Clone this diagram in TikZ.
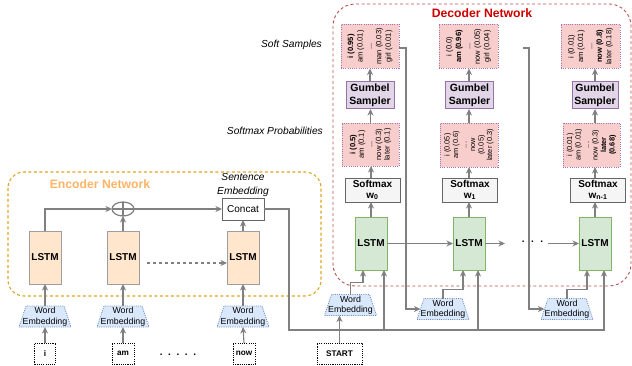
\documentclass[tikz,border=0pt]{standalone}
\usepackage{fontspec}
\setmainfont{Liberation Sans}
\usetikzlibrary{arrows.meta,shapes.geometric,backgrounds,calc}
\definecolor{arrgray}{HTML}{808080}
\definecolor{encfill}{HTML}{FFE6CC}
\definecolor{encdraw}{HTML}{9E9E9E}
\definecolor{decfill}{HTML}{D5E8D4}
\definecolor{decdraw}{HTML}{82B366}
\definecolor{smfill}{HTML}{F5F5F5}
\definecolor{smdraw}{HTML}{666666}
\definecolor{gumfill}{HTML}{E1D5E7}
\definecolor{gumdraw}{HTML}{9673A6}
\definecolor{probfill}{HTML}{F8CECC}
\definecolor{probdraw}{HTML}{A673B6}
\definecolor{wefill}{HTML}{DAE8FC}
\definecolor{wedraw}{HTML}{6C8EBF}
\definecolor{encframe}{HTML}{E0A526}
\definecolor{enctitle}{HTML}{FFB366}
\definecolor{decframe}{HTML}{B85450}
\definecolor{dectitle}{HTML}{CC0000}
\newcommand\fs[2]{\fontsize{#1}{#2}\selectfont}
\newcommand\wetrap[1]{\filldraw[wetrap] (#1.south west) -- (#1.south east) -- ([xshift=-7pt]#1.north east) -- ([xshift=7pt]#1.north west) -- cycle;}
\begin{document}
\begin{tikzpicture}[x=1pt,y=-1pt,
  box/.style={rectangle, inner sep=0pt, outer sep=0pt, align=center},
  lstmE/.style={box, draw=encdraw, fill=encfill, line width=0.9pt, minimum width=32pt, minimum height=53pt, font=\fs{10}{12}\bfseries},
  lstmD/.style={box, draw=decdraw, fill=decfill, line width=0.9pt, minimum width=32pt, minimum height=53pt, font=\fs{10}{12}\bfseries},
  smx/.style={box, draw=smdraw, fill=smfill, line width=0.8pt, minimum width=55pt, minimum height=24pt, font=\fs{10}{11}\bfseries},
  gum/.style={box, draw=gumdraw, fill=gumfill, line width=1pt, minimum width=48pt, minimum height=27pt, font=\fs{10.5}{13}\bfseries},
  prob/.style={box, draw=probdraw, fill=probfill, line width=0.8pt, dash pattern=on 1pt off 1.2pt, minimum width=58pt, minimum height=44pt},
  rot/.style={box, rotate=90, font=\fs{7.6}{8.6}},
  we/.style={box, minimum width=52pt, minimum height=21pt, font=\fs{8.8}{10.5}},
  wetrap/.style={fill=wefill, draw=wedraw, line width=0.8pt, dash pattern=on 1pt off 1.2pt},
  inp/.style={box, draw=black, line width=0.8pt, dash pattern=on 1.1pt off 1.1pt, fill=white, minimum height=21pt, font=\fs{8.2}{10}\bfseries},
  arr/.style={draw=arrgray, line width=1.1pt, -{Stealth[length=6.5pt,width=6pt,inset=2pt]}},
  ln/.style={draw=arrgray, line width=1.1pt},
  lbl/.style={font=\fs{10.2}{12}\itshape, inner sep=0pt},
  oplus/.style={ellipse, draw=arrgray, line width=1.2pt, fill=white, minimum width=22pt, minimum height=14pt, inner sep=0pt, outer sep=0pt,
    path picture={\draw[arrgray,line width=1.2pt] (path picture bounding box.north) -- (path picture bounding box.south) (path picture bounding box.west) -- (path picture bounding box.east);}},
  dots/.style={font=\fs{10}{12}\bfseries, inner sep=0pt}
]
\useasboundingbox (0,0) rectangle (632,366);

% frames
\draw[encframe, line width=1.1pt, dash pattern=on 3pt off 2.5pt, rounded corners=16pt] (8,172) rectangle (321,296);
\node[font=\fs{12.2}{14}\bfseries, text=enctitle, inner sep=0pt] (enctitle) at (100,184) {Encoder Network};
\draw[decframe, line width=0.9pt, dash pattern=on 3pt off 2.5pt, rounded corners=22pt] (333,4) rectangle (631,286);
\node[font=\fs{12.2}{14}\bfseries, text=dectitle, inner sep=0pt] (dectitle) at (482,13) {Decoder Network};

% encoder
\node[lstmE] (e1) at (45,257.5) {LSTM};
\node[lstmE] (e2) at (123,257.5) {LSTM};
\node[lstmE] (e3) at (243,257.5) {LSTM};
\node[oplus] (oplus) at (123,209) {};
\node[box, draw=smdraw, fill=white, line width=0.8pt, minimum width=42pt, minimum height=22pt, font=\fs{10}{12}] (concat) at (243,209) {Concat};
\node[lbl, align=center, font=\fs{10.2}{13.5}\itshape] (sentemb) at (243,185) {Sentence\\Embedding};

\node[we] (w1) at (45,316.5) {Word\\Embedding};
\node[we] (w2) at (123,316.5) {Word\\Embedding};
\node[we] (w3) at (243,316.5) {Word\\Embedding};
\node[inp, minimum width=21pt] (in1) at (45,353.5) {i};
\node[inp, minimum width=22pt] (in2) at (123,353.5) {am};
\node[inp, minimum width=22pt] (in3) at (244,353.5) {now};
\node[dots] (edots) at (178,355) {.\hspace{5.6pt}.\hspace{5.6pt}.\hspace{5.6pt}.\hspace{5.6pt}.};

% decoder columns
\node[lstmD] (d1) at (371,243.5) {LSTM};
\node[lstmD] (d2) at (469,243.5) {LSTM};
\node[lstmD] (d3) at (595,243.5) {LSTM};
\node[smx] (sm1) at (372.5,190) {Softmax\\w\textsubscript{0}};
\node[smx] (sm2) at (470,190) {Softmax\\w\textsubscript{1}};
\node[smx] (sm3) at (598,190) {Softmax\\w\textsubscript{n-1}};
\node[prob, minimum width=57pt, minimum height=43pt] (pb1) at (370.5,144.5) {};
\node[prob, minimum width=58pt] (pb2) at (469,145) {};
\node[prob, minimum width=57pt] (pb3) at (591.5,145) {};
\node[rot] (pt1) at (pb1) {\textbf{i (0.5)}\\am (0.1)\\...\\now (0.3)\\later (0.1)};
\node[rot, font=\fs{7.4}{8.5}] (pt2) at (pb2) {i (0.05)\\am (0.6)\\...\\now\\(0.05)\\later (0.3)};
\node[rot, font=\fs{7.4}{8.5}] (pt3) at (pb3) {i (0.01)\\am (0.01)\\...\\now (0.3)\\\textbf{later}\\\textbf{(0.68)}};
\node[gum] (gs1) at (370,95.5) {Gumbel\\Sampler};
\node[gum] (gs2) at (469.5,95.5) {Gumbel\\Sampler};
\node[gum, minimum width=46pt] (gs3) at (595,95.5) {Gumbel\\Sampler};
\node[prob] (ss1) at (370,46.5) {};
\node[prob, minimum width=59pt] (ss2) at (468.5,46.5) {};
\node[prob, minimum width=59pt] (ss3) at (590.5,46.5) {};
\node[rot, font=\fs{7.6}{9.4}] (st1) at (ss1) {\textbf{i (0.95)}\\am (0.01)\\...\\man (0.03)\\girl (0.01)};
\node[rot, font=\fs{7.6}{9.4}] (st2) at (ss2) {i (0.0)\\\textbf{am (0.96)}\\...\\now (0.05)\\girl (0.04)};
\node[rot, font=\fs{7.6}{9.4}] (st3) at (ss3) {i (0.01)\\am (0.01)\\...\\\textbf{now (0.8)}\\later (0.18)};

\node[we] (wd1) at (350.5,305) {Word\\Embedding};
\node[we] (wd2) at (443,309) {Word\\Embedding};
\node[we] (wd3) at (567,309) {Word\\Embedding};
\node[inp, minimum width=45pt] (start) at (339.5,353.5) {START};
\node[dots] (ddots) at (532.5,242) {.\hspace{6.5pt}.\hspace{6.5pt}.};

\node[lbl, anchor=east] (lss) at (322,45) {Soft Samples};
\node[lbl, anchor=east] (lsp) at (323,131) {Softmax Probabilities};

\begin{scope}[on background layer]
\wetrap{w1}\wetrap{w2}\wetrap{w3}\wetrap{wd1}\wetrap{wd2}\wetrap{wd3}
\end{scope}

% encoder connectors
\draw[arr] (e1.north) |- (oplus.west);
\draw[arr] (e2.north) -- (oplus.south);
\draw[arr] (oplus.east) -- (concat.west);
\draw[arr] (e3.north) -- (concat.south);
\draw[arr, dash pattern=on 3pt off 3pt] ([yshift=-5.5pt]e2.east) ++(8,0) -- ([yshift=-5.5pt]e3.west);
\foreach \i in {1,2,3}{
  \draw[arr] (in\i.north) -- (w\i.south);
  \draw[arr] (w\i.north) -- (e\i.south);
}

% sentence embedding bus
\coordinate (busc) at (289,330);
\draw[arr] (concat.east) -| (busc) -| ([xshift=9pt]d3.south);
\coordinate (bx1) at ([xshift=13pt]d1.south |- busc);
\coordinate (bx2) at ([xshift=9pt]d2.south |- busc);
\draw[arr] (bx1) -- ([xshift=13pt]d1.south);
\draw[arr] (bx2) -- ([xshift=9pt]d2.south);

% decoder inputs
\draw[arr] (start.north) -- (start.north |- wd1.south);
\draw[arr] (wd1.north) -- ++(0,-12) -| ([xshift=-8pt]d1.south);
\draw[arr] (wd2.north) -- ++(0,-9) -| ([xshift=-6pt]d2.south);
\draw[arr] (wd3.north) -- ++(0,-9) -| ([xshift=-8pt]d3.south);

% recurrent
\draw[arr] (d1.east) -- (d2.west);
\draw[arr] (d2.east) -- ++(20,0);
\coordinate (dd) at (548,243.5);
\draw[arr] (dd) -- (d3.west);

% columns
\draw[arr] (d1.north) -- (d1.north |- sm1.south);
\draw[arr] (sm1.north -| d1) -- (d1 |- pb1.south);
\draw[arr] (pb1.north) -- (pb1.north |- gs1.south);
\draw[arr] (gs1.north) -- (gs1.north |- ss1.south);
\draw[arr] (d2.north) -- (d2.north |- sm2.south);
\draw[arr] (sm2.north -| d2) -- (d2 |- pb2.south);
\draw[arr] (pb2.north) -- (pb2.north |- gs2.south);
\draw[arr] (gs2.north -| pb2) -- (pb2 |- ss2.south);
\draw[arr] (d3.north) -- (d3.north |- sm3.south);
\draw[arr] (sm3.north -| d3) -- (d3 |- pb3.south);
\draw[arr] (pb3.north -| d3) -- (d3 |- gs3.south);
\draw[arr] (gs3.north) -- (gs3.north |- ss3.south);

% feedback of soft samples
\draw[arr] ([yshift=-1.5pt]ss1.east) -- ++(7,0) |- ([xshift=3.5pt]wd2.west);
\coordinate (fb2) at (523,48);
\draw[arr] (fb2) -- ++(6,0) |- ([xshift=3.5pt]wd3.west);
\end{tikzpicture}
\end{document}
